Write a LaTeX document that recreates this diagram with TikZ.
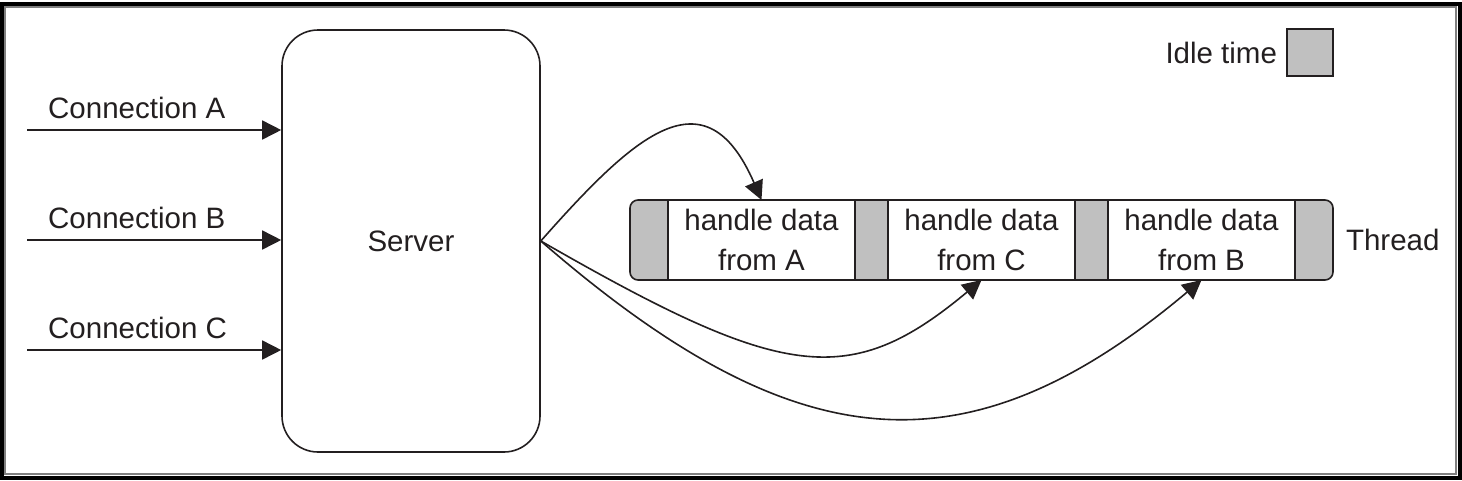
\documentclass[tikz,border=0pt]{standalone}
\usepackage{fontspec}
\setmainfont{Liberation Sans}
\usetikzlibrary{arrows.meta, positioning, calc}

\definecolor{idle}{HTML}{C0C0C0}
\definecolor{ink}{HTML}{231F20}

\begin{document}
\begin{tikzpicture}[
			x=1pt, y=-1pt,
			every node/.style={font=\fontsize{29.5}{40}\selectfont, text=ink},
			txt/.style={inner sep=0pt},
			serverbox/.style={draw=ink, line width=1.6pt, rounded corners=36pt,
				minimum width=258pt, minimum height=422pt},
			threadbar/.style={draw=ink, fill=idle, line width=1.6pt, rounded corners=8pt,
				minimum width=703pt, minimum height=80pt},
			taskbox/.style={draw=ink, fill=white, line width=1.6pt, outer sep=0pt,
				minimum width=187pt, minimum height=80pt, align=center, inner sep=0pt},
			idlebox/.style={draw=ink, fill=idle, line width=1.6pt,
				minimum width=46pt, minimum height=47pt},
			conn/.style={draw=ink, line width=1.6pt, -{Triangle[length=19pt,width=19pt]}}
		]
		\useasboundingbox (0,0) rectangle (1462,480);
		\draw[line width=4pt, black] (2,4) rectangle (1459.5,477.5);
		\draw[line width=2pt, gray] (5,7) rectangle (1456,474);

		\node[serverbox] (server) at (411,241) {Server};

		\foreach \c/\y in {A/130, B/240, C/350} {
			\coordinate (in\c) at (27,\y);
			\node[txt, anchor=base west] (lab\c) at (48,\y-12) {Connection \c};
			\draw[conn] (in\c) -- (in\c -| server.west);
		}

		\node[threadbar] (thread) at (981.5,240) {};
		\node[taskbox] (taskA) at (761.5,240) {handle data\\from A};
		\node[taskbox, right=33pt of taskA] (taskC) {handle data\\from C};
		\node[taskbox, right=33pt of taskC] (taskB) {handle data\\from B};
		\node[txt, right=12pt of thread] (threadlab) {Thread};

		\node[idlebox] (idle) at (1310,52.5) {};
		\node[txt, left=9pt of idle] (idlelab) {Idle time};

		\draw[conn] (server.east) .. controls (633.7,136) and (705,70) .. (taskA.north);
		\draw[conn] (server.east) .. controls (782.5,380) and (849,390.6) .. (taskC.south);
		\draw[conn] (server.east) .. controls (792.5,459.4) and (964.7,479.2) .. (taskB.south);
	\end{tikzpicture}
\end{document}
